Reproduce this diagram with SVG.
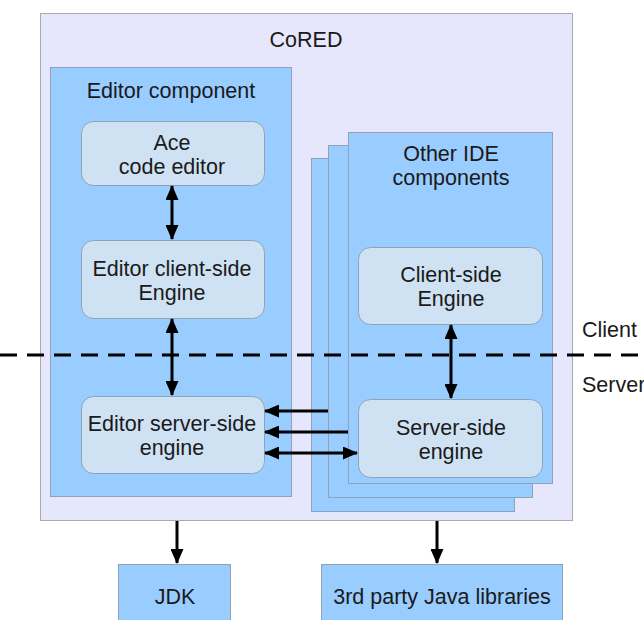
<svg xmlns="http://www.w3.org/2000/svg" width="644" height="620" viewBox="0 0 644 620">
<defs>
<style>
text{font-family:"Liberation Sans",Arial,sans-serif;font-size:21.5px;fill:#1a1a1a;text-anchor:middle}
.outer{fill:#e6e6fc;stroke:#aaaaaa;stroke-width:1}
.comp{fill:#99ccff;stroke:#8fa3b8;stroke-width:1}
.eng{fill:#cfe2f3;stroke:#8fa3b8;stroke-width:1}
.c{stroke:#000;stroke-width:3;fill:none}
</style>
<marker id="ah" viewBox="0 0 15 13" refX="14" refY="6.5" markerWidth="15" markerHeight="13" markerUnits="userSpaceOnUse" orient="auto-start-reverse">
<path d="M0,0 L15,6.5 L0,13 z" fill="#000"/>
</marker>
</defs>
<g id="cored"><rect class="outer" x="40.5" y="13.5" width="532" height="507"/><text x="306" y="47">CoRED</text></g>
<g id="editor-component"><rect class="comp" x="50.5" y="67.5" width="241" height="429"/><text x="171" y="98">Editor component</text></g>
<g id="ace"><rect class="eng" x="81.5" y="121.5" width="183" height="64" rx="12"/><text x="172" y="150">Ace</text><text x="172" y="174">code editor</text></g>
<g id="editor-client"><rect class="eng" x="81.5" y="240.5" width="183" height="78" rx="12"/><text x="172" y="276">Editor client-side</text><text x="172" y="300">Engine</text></g>
<g id="editor-server"><rect class="eng" x="81.5" y="396.5" width="183" height="77" rx="12"/><text x="172" y="431">Editor server-side</text><text x="172" y="455">engine</text></g>
<g id="other-ide"><rect class="comp" x="311.5" y="158.5" width="203" height="353"/><rect class="comp" x="328.5" y="145.5" width="204" height="352"/><rect class="comp" x="348.5" y="132.5" width="204" height="351"/><text x="451" y="161">Other IDE</text><text x="451" y="185">components</text></g>
<g id="client-side"><rect class="eng" x="358.5" y="247.5" width="184" height="77" rx="12"/><text x="451" y="282">Client-side</text><text x="451" y="306">Engine</text></g>
<g id="server-side"><rect class="eng" x="358.5" y="399.5" width="184" height="78" rx="12"/><text x="451" y="435">Server-side</text><text x="451" y="459">engine</text></g>
<g id="jdk"><rect class="comp" x="118.5" y="564.5" width="112" height="60"/><text x="175" y="604">JDK</text></g>
<g id="libs"><rect class="comp" x="321.5" y="564.5" width="241" height="60"/><text x="442" y="604">3rd party Java libraries</text></g>
<g id="labels"><text x="582" y="337" style="text-anchor:start">Client</text><text x="582" y="392" style="text-anchor:start">Server</text></g>
<g id="connectors">
<line x1="0" y1="355" x2="644" y2="355" stroke="#000" stroke-width="3" stroke-dasharray="17,10"/>
<line class="c" x1="172" y1="186" x2="172" y2="239" marker-start="url(#ah)" marker-end="url(#ah)"/>
<line class="c" x1="172" y1="319" x2="172" y2="395" marker-start="url(#ah)" marker-end="url(#ah)"/>
<line class="c" x1="451" y1="325" x2="451" y2="398" marker-start="url(#ah)" marker-end="url(#ah)"/>
<line class="c" x1="328" y1="411" x2="265" y2="411" marker-end="url(#ah)"/>
<line class="c" x1="348" y1="432" x2="265" y2="432" marker-end="url(#ah)"/>
<line class="c" x1="265" y1="453" x2="357" y2="453" marker-start="url(#ah)" marker-end="url(#ah)"/>
<line class="c" x1="177" y1="521" x2="177" y2="563" marker-end="url(#ah)"/>
<line class="c" x1="437" y1="521" x2="437" y2="563" marker-end="url(#ah)"/>
</g>
</svg>
